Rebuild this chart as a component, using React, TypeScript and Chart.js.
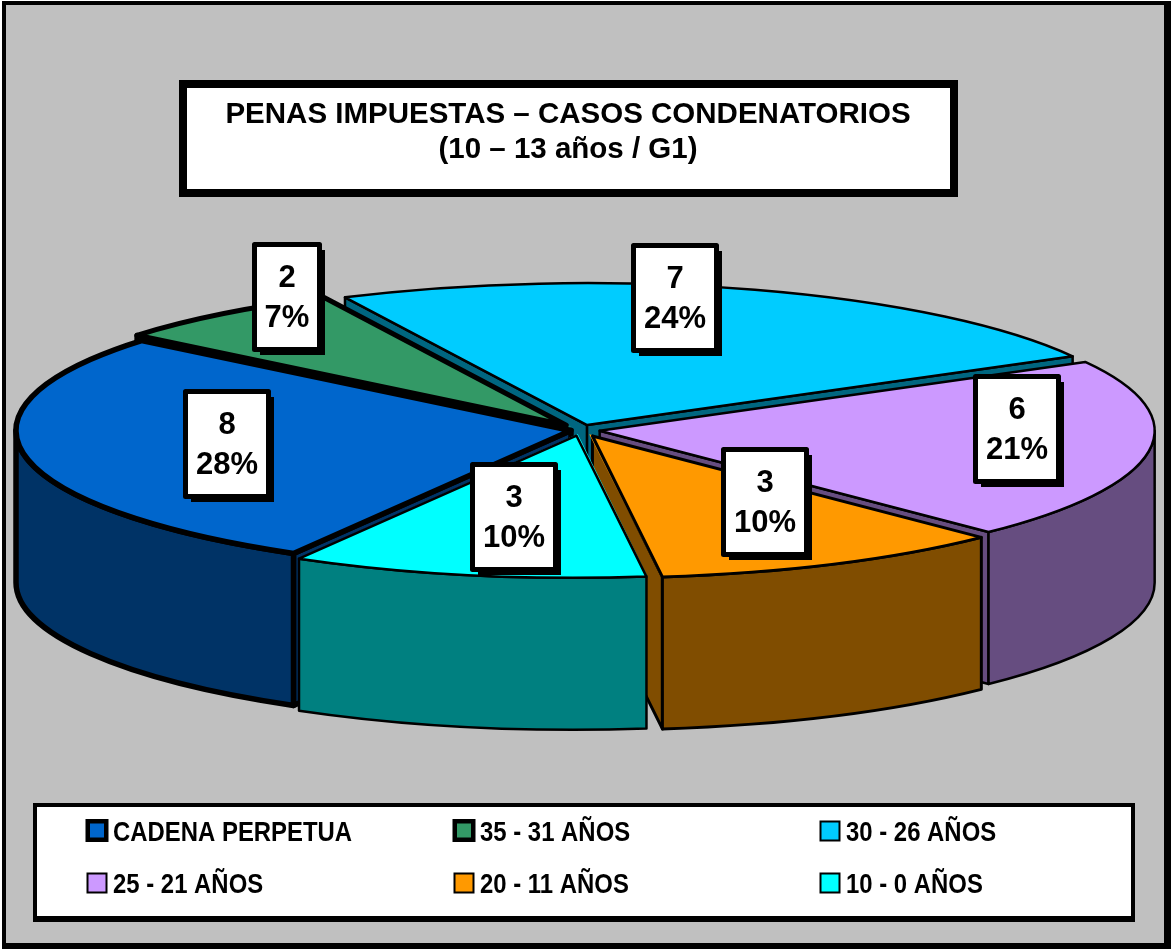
import React, { useEffect, useRef } from "react";
import { Chart, registerables } from "chart.js";

Chart.register(...registerables);

const categories = ["CADENA PERPETUA", "35 - 31 AÑOS", "30 - 26 AÑOS", "25 - 21 AÑOS", "20 - 11 AÑOS", "10 - 0 AÑOS"];
const values = [8, 2, 7, 6, 3, 3];
const topColors = ["#0066CC", "#339966", "#00CCFF", "#CC99FF", "#FF9900", "#00FFFF"];
const sideColors = ["#003366", "#1A4D33", "#006680", "#664D80", "#804D00", "#008080"];
const sliceOffsets = [32, 48, 64, 58, 60, 52];
const outlineWidths = [5.5, 5, 2.5, 2.5, 3, 2.5];
const paintOrder = [1, 2, 3, 0, 4, 5];
const titleLines = ["PENAS IMPUESTAS – CASOS CONDENATORIOS", "(10 – 13 años / G1)"];
const labelCentres = [[227, 444], [287, 297], [675, 298], [1017, 429], [765, 502], [514, 517]];
const legendCols = [87, 454, 820];
const legendRows = [831, 883];

const PIE_X = 581, PIE_Y = 430, RX = 555, RY = 142, DEPTH = 152;
const FONT = '"Liberation Sans", Arial, sans-serif';

function geom(arc: any) {
  const sx = RX / arc.outerRadius, sy = RY / arc.outerRadius;
  const mid = (arc.startAngle + arc.endAngle) / 2;
  // same displacement the arc element applies when it is drawn
  const fix = 1 - Math.sin(Math.min(Math.PI, arc.circumference || 0));
  const off = ((arc.options.offset || 0) / 4) * (1 + fix);
  return {
    cx: PIE_X + Math.cos(mid) * off * sx,
    cy: PIE_Y + Math.sin(mid) * off * sy,
    t0: arc.startAngle,
    t1: arc.endAngle,
  };
}

function drawFace(ctx: any, cx: number, cy: number, t: number, fill: string, lw: number) {
  const ex = cx + RX * Math.cos(t), ey = cy + RY * Math.sin(t);
  ctx.beginPath();
  ctx.moveTo(cx, cy);
  ctx.lineTo(ex, ey);
  ctx.lineTo(ex, ey + DEPTH);
  ctx.lineTo(cx, cy + DEPTH);
  ctx.closePath();
  ctx.fillStyle = fill;
  ctx.fill();
  ctx.lineWidth = lw;
  ctx.strokeStyle = "#000";
  ctx.stroke();
}

const pie3d = {
  id: "pie3d",
  beforeDraw(chart: any) {
    const ctx = chart.ctx;
    ctx.save();
    ctx.fillStyle = "#000";
    ctx.fillRect(2, 1, 1169, 948);
    ctx.fillStyle = "#C0C0C0";
    ctx.fillRect(6, 5, 1158, 938);

    ctx.fillStyle = "#000";
    ctx.fillRect(179, 80, 779, 117);
    ctx.fillStyle = "#fff";
    ctx.fillRect(187, 88, 763, 101);
    ctx.fillStyle = "#000";
    ctx.font = `bold 29.5px ${FONT}`;
    ctx.textAlign = "center";
    ctx.textBaseline = "middle";
    ctx.fillText(titleLines[0], 568, 115);
    ctx.fillText(titleLines[1], 568, 150);

    ctx.fillStyle = "#000";
    ctx.fillRect(33, 803, 1102, 119);
    ctx.fillStyle = "#fff";
    ctx.fillRect(37, 807, 1094, 109);
    ctx.textAlign = "left";
    categories.forEach((name, i) => {
      const x = legendCols[i % 3], y = legendRows[Math.floor(i / 3)];
      const thick = outlineWidths[i] > 3;
      const size = thick ? 23 : 21;
      const inset = thick ? 4.5 : 2;
      const sx0 = x - 1.5 + (thick ? 0 : 1);
      const sy0 = y - size / 2 + (thick ? -0.5 : 0);
      ctx.fillStyle = "#000";
      ctx.fillRect(sx0, sy0, size, size);
      ctx.fillStyle = topColors[i];
      ctx.fillRect(sx0 + inset, sy0 + inset, size - 2 * inset, size - 2 * inset);
      ctx.fillStyle = "#000";
      ctx.save();
      ctx.translate(x + 26, y + 2);
      ctx.scale(0.854, 1);
      ctx.font = `bold 28px ${FONT}`;
      ctx.fillText(name, 0, 0);
      ctx.restore();
    });
    ctx.restore();
  },
  beforeDatasetsDraw(chart: any) {
    const ctx = chart.ctx;
    const arcs = chart.getDatasetMeta(0).data;
    ctx.save();
    ctx.lineJoin = "round";
    paintOrder.forEach((i) => {
      const arc = arcs[i];
      const { cx, cy, t0, t1 } = geom(arc);
      if (Math.cos(t0) < 0) drawFace(ctx, cx, cy, t0, sideColors[i], outlineWidths[i]);
      if (Math.cos(t1) > 0) drawFace(ctx, cx, cy, t1, sideColors[i], outlineWidths[i]);
      for (let k = -1; k <= 2; k++) {
        const lo = Math.max(t0, k * 2 * Math.PI);
        const hi = Math.min(t1, k * 2 * Math.PI + Math.PI);
        if (hi <= lo) continue;
        ctx.beginPath();
        ctx.ellipse(cx, cy, RX, RY, 0, lo, hi);
        ctx.ellipse(cx, cy + DEPTH, RX, RY, 0, hi, lo, true);
        ctx.closePath();
        ctx.fillStyle = sideColors[i];
        ctx.fill();
        ctx.lineWidth = outlineWidths[i];
        ctx.strokeStyle = "#000";
        ctx.stroke();
      }
    });
    ctx.restore();

    const first = arcs[0];
    ctx.save();
    ctx.translate(PIE_X, PIE_Y);
    ctx.scale(RX / first.outerRadius, RY / first.outerRadius);
    ctx.translate(-first.x, -first.y);
  },
  afterDatasetsDraw(chart: any) {
    const ctx = chart.ctx;
    ctx.restore();
    const arcs = chart.getDatasetMeta(0).data;
    ctx.save();
    ctx.lineJoin = "round";
    paintOrder.forEach((i) => {
      const { cx, cy, t0, t1 } = geom(arcs[i]);
      ctx.beginPath();
      ctx.moveTo(cx, cy);
      ctx.ellipse(cx, cy, RX, RY, 0, t0, t1);
      ctx.closePath();
      ctx.lineWidth = outlineWidths[i];
      ctx.strokeStyle = "#000";
      ctx.stroke();
    });

    const total = values.reduce((a, b) => a + b, 0);
    values.forEach((v, i) => {
      const [x, y] = labelCentres[i];
      const pct = `${Math.round((v / total) * 100)}%`;
      const w = pct.length > 2 ? 78 : 60;
      const h = 100;
      const left = x - w / 2, top = y - h / 2;
      ctx.fillStyle = "#000";
      ctx.fillRect(left + 3, top + 3, w + 5, h + 5);
      ctx.lineWidth = 5;
      ctx.strokeStyle = "#000";
      ctx.strokeRect(left - 2.5, top - 2.5, w + 5, h + 5);
      ctx.fillStyle = "#fff";
      ctx.fillRect(left, top, w, h);
      ctx.fillStyle = "#000";
      ctx.font = `bold 31px ${FONT}`;
      ctx.textAlign = "center";
      ctx.textBaseline = "middle";
      ctx.fillText(String(v), x, y - 19);
      ctx.fillText(pct, x, y + 21);
    });
    ctx.restore();
  },
};

export default function App() {
  const ref = useRef<HTMLCanvasElement>(null);
  useEffect(() => {
    document.body.style.margin = "0";
    document.body.style.background = "#fff";
    const chart = new Chart(ref.current as HTMLCanvasElement, {
      type: "pie",
      data: {
        labels: categories,
        datasets: [
          {
            data: values,
            backgroundColor: topColors,
            borderWidth: 0,
            offset: sliceOffsets,
            hoverOffset: 0,
            clip: false,
          } as any,
        ],
      },
      options: {
        animation: false,
        responsive: false,
        rotation: 210,
        layout: { padding: 0 },
        plugins: { legend: { display: false }, title: { display: false }, tooltip: { enabled: false } },
      },
      plugins: [pie3d],
    });
    return () => chart.destroy();
  }, []);
  return <canvas ref={ref} width={1171} height={949} style={{ display: "block" }} />;
}
